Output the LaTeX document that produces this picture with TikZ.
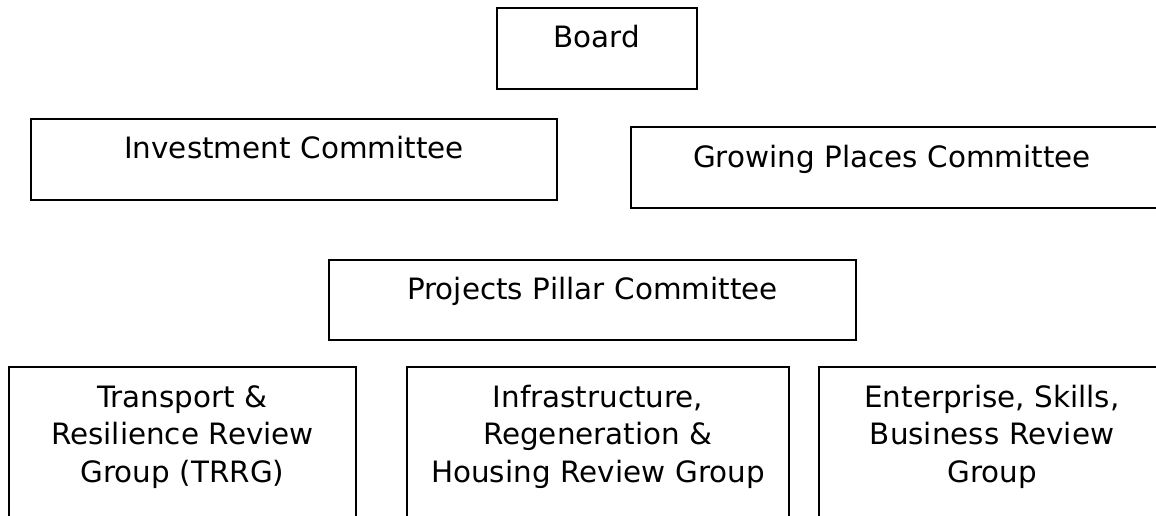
\documentclass[tikz,border=0pt]{standalone}
\usepackage{fontspec}
\setmainfont{DejaVu Sans}
\begin{document}
\begin{tikzpicture}[x = 1pt, y = -1pt,
        panel/.style = {draw = black, line width = 1.8pt, inner sep = 0pt},
        caption/.style = {anchor = base, align = center, inner sep = 0pt, text width = 420pt,
            font = \fontsize{29.4pt}{37.5pt}\selectfont}]
        \useasboundingbox (0,0) rectangle (1156,515);
        \clip (0,0) rectangle (1156,515);

        \node[panel, minimum width = 200pt, minimum height = 81pt] (board) at (597,48.5) {};
        \node[panel, minimum width = 526pt, minimum height = 81pt] (invest) at (294,159.5) {};
        \node[panel, minimum width = 529pt, minimum height = 81pt] (growing) at (895.5,167.5) {};
        \node[panel, minimum width = 527pt, minimum height = 80pt] (pillar) at (592.5,300) {};
        \node[panel, minimum width = 347pt, minimum height = 193pt] (transport) at (182.5,463.5) {};
        \node[panel, minimum width = 382pt, minimum height = 193pt] (infra) at (598,463.5) {};
        \node[panel, minimum width = 346pt, minimum height = 193pt] (enterprise) at (992,463.5) {};

        \node[caption] (boardtext) at (597,47) {Board};
        \node[caption] (investtext) at (294,158) {Investment Committee};
        \node[caption] (growingtext) at (892,167) {Growing Places Committee};
        \node[caption] (pillartext) at (592.5,299) {Projects Pillar Committee};
        \node[caption] (transporttext) at (182.5,407) {Transport \&\\ Resilience Review\\ Group (TRRG)};
        \node[caption] (infratext) at (598,407) {Infrastructure,\\ Regeneration \&\\ Housing Review Group};
        \node[caption] (enterprisetext) at (992,407) {Enterprise, Skills,\\ Business Review\\ Group};
    \end{tikzpicture}
\end{document}
